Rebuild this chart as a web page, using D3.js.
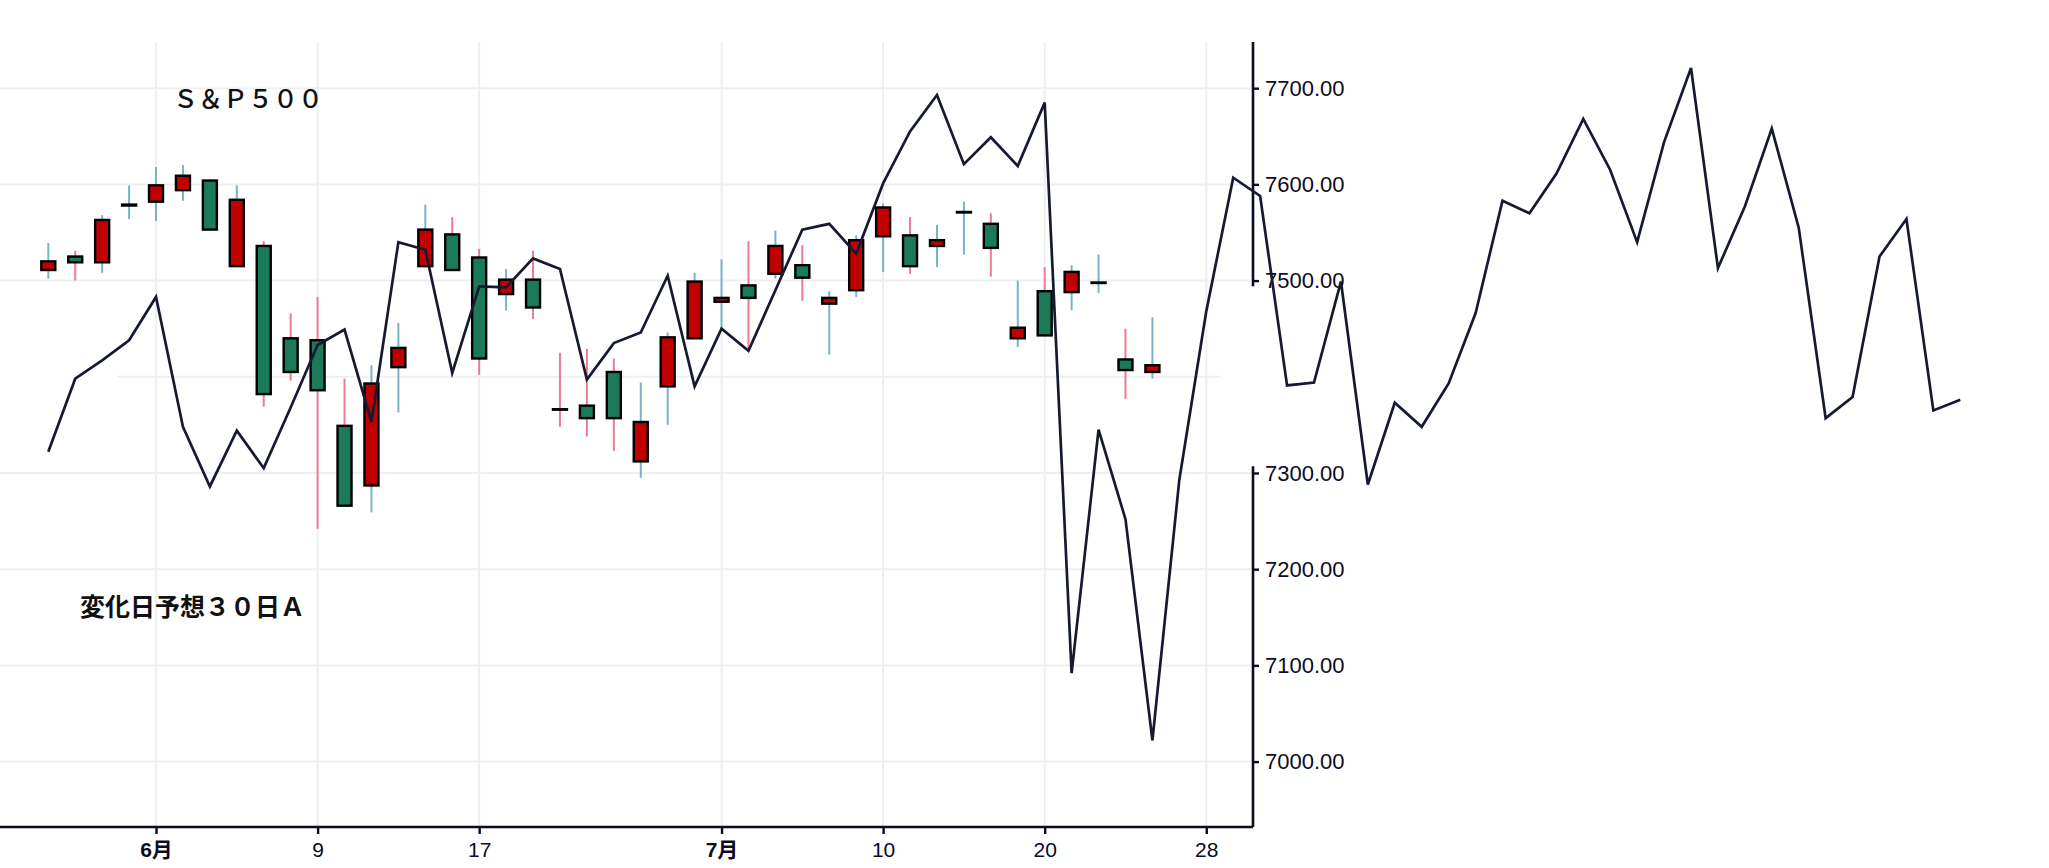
<!DOCTYPE html>
<html>
<head>
<meta charset="utf-8">
<script src="https://cdn.jsdelivr.net/npm/d3@7"></script>
<style>
  body { margin: 0; background: #ffffff; }
  svg { display: block; }
</style>
</head>
<body>
<svg id="drawing_region"></svg>
<script>
// trading days (2026), candles cover the first 42, the forecast line all of them
const dates = [
  "05-26","05-27","05-28","05-29",
  "06-01","06-02","06-03","06-04","06-05",
  "06-08","06-09","06-10","06-11","06-12",
  "06-15","06-16","06-17","06-18",
  "06-22","06-23","06-24","06-25","06-26",
  "06-29","06-30","07-01","07-02",
  "07-06","07-07","07-08","07-09","07-10",
  "07-13","07-14","07-15","07-16","07-17",
  "07-20","07-21","07-22","07-23","07-24",
  "07-27","07-28","07-29","07-30","07-31",
  "08-03","08-04","08-05","08-06","08-07",
  "08-10","08-11","08-12","08-13","08-14",
  "08-17","08-18","08-19","08-20","08-21",
  "08-24","08-25","08-26","08-27","08-28",
  "08-31","09-01","09-02","09-03","09-04"
];

const opens  = [7511,7525,7519,7578,7582,7594,7604,7515,7536,7440,7438,7349,7287,7410,7515,7548,7524,7486,7501,7366.3,7370,7405,7312,7390,7440,7478,7495,7507,7516,7476,7490,7546,7547,7536,7571,7559,7440,7489,7488,7497.5,7418,7405];
const highs  = [7539,7531,7568,7599,7618,7620,7605,7599,7541,7466,7483,7398,7412,7456,7579,7566,7533,7512,7531,7425,7429,7419,7394,7446,7508,7522,7541,7552,7537,7489,7547,7580,7566,7558,7582,7570,7500,7514,7516,7527,7450,7462];
const lows   = [7502,7500,7508,7564,7562,7583,7552,7515,7369,7396,7242,7266,7259,7363,7515,7511,7402,7469,7460,7348,7338,7323,7295,7350,7440,7449,7428,7502,7479,7423,7483,7509,7507,7514,7527,7504,7431,7443,7469,7487,7377,7398];
const closes = [7520,7519,7563,7579,7599,7609,7553,7584,7382,7405,7386,7266,7393,7430,7553,7511,7419,7501,7472,7366,7357,7357,7353,7441,7499,7482,7482,7536,7503,7482,7542,7576,7515,7542,7571.3,7534,7451,7443,7509,7498,7407,7412];

// 変化日予想 line
const forecast = [
  7322,7398,7417,7438,7483,7348,7286,7344,7305,7368,
  7433,7449,7353,7540,7532,7404,7494,7493,7523,7512,
  7397,7435,7446,7505,7390,7450,7427,7490,7553,7559,
  7528,7601,7655,7693,7621,7649,7619,7685,7092,7345,
  7252,7022,7293,7468,7607,7588,7391,7394,7499,7288,
  7373,7348,7393,7466,7583,7570,7611,7668,7615,7540,
  7644,7721,7513,7577,7658,7555,7357,7379,7525,7564,
  7365,7376
];

const gridValues = [7000,7100,7200,7300,7400,7500,7600,7700];
const yTickValues = [7000,7100,7200,7300,7500,7600,7700];
const xTickDates = ["06-01","06-09","06-17","07-01","07-10","07-20","07-28"];
const xTickLabels = ["6月","9","17","7月","10","20","28"];

class CandleChart {

    constructor( config, data ) {
        this.config = {
            parent: config.parent,
            width: config.width || 2049,
            height: config.height || 868,
            axis_x: config.axis_x || 1253,
            top: config.top || 42,
            bottom: config.bottom || 827
        }
        this.data = data;
        this.init();
    }

    init() {
        let self = this;

        self.svg = d3.select( self.config.parent )
            .attr('width', self.config.width)
            .attr('height', self.config.height);

        self.xscale = d3.scalePoint()
            .range( [48.3, 1960.3] );

        self.yscale = d3.scaleLinear()
            .range( [self.config.bottom, self.config.top] );

        self.grid_group = self.svg.append('g');
        self.candle_group = self.svg.append('g');
        self.line_group = self.svg.append('g');

        self.xaxis_group = self.svg.append('g')
            .attr('transform', `translate(0, ${self.config.bottom})`);

        self.yaxis_group = self.svg.append('g')
            .attr('transform', `translate(${self.config.axis_x}, 0)`);

        self.svg.append("text")
            .attr("x", 173)
            .attr("y", 108)
            .attr("font-family", "'Noto Sans CJK JP', sans-serif")
            .attr("font-size", "25px")
            .attr("font-weight", 500)
            .attr("fill", "#111111")
            .text("Ｓ＆Ｐ５００");

        self.svg.append("text")
            .attr("x", 80)
            .attr("y", 616)
            .attr("font-family", "'Noto Sans CJK JP', sans-serif")
            .attr("font-size", "25px")
            .attr("font-weight", "bold")
            .attr("fill", "#111111")
            .text("変化日予想３０日Ａ");
    }

    update() {
        let self = this;
        self.xscale.domain( dates );
        self.yscale.domain( [6932, 7748] );

        self.candles = opens.map((o, i) => ({
            date: dates[i], open: o, high: highs[i], low: lows[i], close: closes[i]
        }));
        self.render();
    }

    render() {
        let self = this;
        const x = self.xscale, y = self.yscale;
        const bw = x.step() * 0.52;

        // grid
        self.grid_group.selectAll(".vgrid")
            .data(xTickDates)
            .join("line")
            .attr("class", "vgrid")
            .attr("x1", d => x(d)).attr("x2", d => x(d))
            .attr("y1", self.config.top).attr("y2", self.config.bottom)
            .attr("stroke", "#efeff2")
            .attr("stroke-width", 2);

        self.grid_group.selectAll(".hgrid")
            .data(gridValues)
            .join("line")
            .attr("class", "hgrid")
            .attr("x1", d => d == 7400 ? 117 : 0)
            .attr("x2", d => d == 7400 ? 1220 : self.config.axis_x)
            .attr("y1", d => y(d)).attr("y2", d => y(d))
            .attr("stroke", "#efeff2")
            .attr("stroke-width", 2);

        // wicks
        self.candle_group.selectAll(".wick")
            .data(self.candles)
            .join("line")
            .attr("class", "wick")
            .attr("x1", d => x(d.date)).attr("x2", d => x(d.date))
            .attr("y1", d => y(d.high)).attr("y2", d => y(d.low))
            .attr("stroke", d => d.close >= d.open ? "#77b5c6" : "#ec7b93")
            .attr("stroke-width", 2);

        // bodies
        self.candle_group.selectAll(".body")
            .data(self.candles)
            .join("rect")
            .attr("class", "body")
            .attr("x", d => x(d.date) - bw/2)
            .attr("y", d => y(Math.max(d.open, d.close)))
            .attr("width", bw)
            .attr("height", d => Math.max(Math.abs(y(d.open) - y(d.close)), 0.5))
            .attr("fill", d => d.close >= d.open ? "#c00000" : "#1b7a58")
            .attr("stroke", "#000000")
            .attr("stroke-width", 2.4);

        // forecast line (runs on past the axis)
        const line = d3.line()
            .x((d, i) => x(dates[i]))
            .y(d => y(d));

        self.line_group.append("path")
            .datum(forecast)
            .attr("d", line)
            .attr("fill", "none")
            .attr("stroke", "#151a30")
            .attr("stroke-width", 2.7);

        // x axis
        self.xaxis_group
            .call( d3.axisBottom(x)
                .tickValues(xTickDates)
                .tickFormat((d, i) => xTickLabels[i])
                .tickSize(7)
                .tickPadding(8)
                .tickSizeOuter(0) );
        self.xaxis_group.select(".domain").remove();
        self.xaxis_group.append("line")
            .attr("x1", 0).attr("x2", self.config.axis_x)
            .attr("stroke", "#0b0b22")
            .attr("stroke-width", 2.6);
        self.xaxis_group.selectAll(".tick line")
            .attr("stroke", "#0b0b22")
            .attr("stroke-width", 2.4);
        self.xaxis_group.selectAll("text")
            .attr("font-family", "'Liberation Sans', 'Noto Sans CJK JP', sans-serif")
            .attr("font-size", "21px")
            .attr("font-weight", d => d.endsWith("01") ? "bold" : "normal")
            .attr("fill", "#0b0b22");

        // y axis (no 7400 label, line broken there)
        self.yaxis_group
            .call( d3.axisRight(y)
                .tickValues(yTickValues)
                .tickFormat(d3.format(".2f"))
                .tickSize(6)
                .tickPadding(6)
                .tickSizeOuter(0) );
        self.yaxis_group.select(".domain").remove();
        self.yaxis_group.selectAll(".axis_part")
            .data([[7748, 7494], [7307, 6932]])
            .join("line")
            .attr("class", "axis_part")
            .attr("y1", d => y(d[0])).attr("y2", d => y(d[1]))
            .attr("stroke", "#0b0b22")
            .attr("stroke-width", 2.6);
        self.yaxis_group.selectAll(".tick line")
            .attr("stroke", "#0b0b22")
            .attr("stroke-width", 2.4);
        self.yaxis_group.selectAll("text")
            .attr("font-family", "'Liberation Sans', Arial, sans-serif")
            .attr("font-size", "22px")
            .attr("fill", "#0b0b22");

        self.line_group.raise();
    }
}

let chart = new CandleChart({ parent: '#drawing_region', width: 2049, height: 868 }, null);
chart.update();
</script>
</body>
</html>
